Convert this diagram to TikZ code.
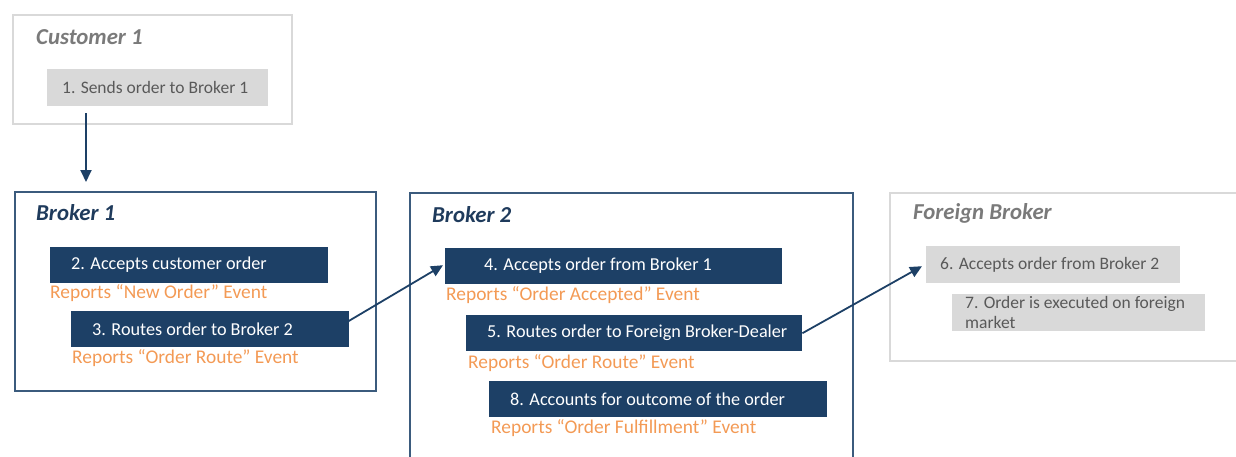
\documentclass[tikz,border=0pt]{standalone}
\usepackage{fontspec}
\setmainfont{Carlito}
\usetikzlibrary{arrows.meta,calc}
\definecolor{navy}{HTML}{1D4066}
\definecolor{frame}{HTML}{3B5B7D}
\definecolor{lgray}{HTML}{D9D9D9}
\definecolor{orng}{HTML}{F39A55}
\definecolor{gtitle}{HTML}{7A7A7A}
\definecolor{gtext}{HTML}{595959}
\definecolor{ntitle}{HTML}{1F3B5C}
\begin{document}
\begin{tikzpicture}[x=1pt,y=-1pt,
  group/.style={draw, line width=1.6pt, inner sep=0pt, anchor=north west},
  navygroup/.style={group, draw=frame},
  graygroup/.style={group, draw=lgray},
  dbox/.style={fill=navy, inner sep=0pt, anchor=north west, minimum height=36pt},
  gbox/.style={fill=lgray, inner sep=0pt, anchor=north west, minimum height=37pt},
  wtext/.style={text=white, font=\fontsize{18.2}{20}\selectfont, anchor=west, inner sep=0pt},
  gtxt/.style={text=gtext, font=\fontsize{17.5}{20}\selectfont, anchor=west, inner sep=0pt, align=left},
  otext/.style={text=orng, font=\fontsize{19.4}{22}\selectfont, anchor=west, inner sep=0pt},
  title/.style={font=\fontsize{22.8}{26}\selectfont\bfseries\itshape, anchor=west, inner sep=0pt},
  arr/.style={draw=navy, line width=1.8pt, -{Triangle[length=12pt,width=11pt]}}
]
\useasboundingbox (0,0) rectangle (1236,456);
\clip (0,0) rectangle (1236,456);
% Customer 1
\node[graygroup, minimum width=279pt, minimum height=109pt] (cust) at (12,14) {};
\node[title, text=gtitle] (custt) at (36,37) {Customer 1};
\node[gbox, minimum width=221pt] (s1) at (47,69) {};
\node[gtxt] (s1t) at (62,87.5) {1. Sends order to Broker 1};
% Broker 1
\node[navygroup, minimum width=361pt, minimum height=199pt] (broker1) at (14,191) {};
\node[title, text=ntitle] (broker1t) at (36,213) {Broker 1};
\node[dbox, minimum width=278pt] (b2) at (50,247) {};
\node[wtext] (b2t) at (71,265) {2. Accepts customer order};
\node[otext] (o2) at (50,293) {Reports “New Order” Event};
\node[dbox, minimum width=278pt] (b3) at (71,311) {};
\node[wtext] (b3t) at (92,329) {3. Routes order to Broker 2};
\node[otext] (o3) at (72,358) {Reports “Order Route” Event};
% Broker 2
\node[navygroup, minimum width=443pt, minimum height=300pt] (broker2) at (409,192) {};
\node[title, text=ntitle] (broker2t) at (432,215) {Broker 2};
\node[dbox, minimum width=337pt] (b4) at (445,248) {};
\node[wtext] (b4t) at (484,266) {4. Accepts order from Broker 1};
\node[otext] (o4) at (446,295) {Reports “Order Accepted” Event};
\node[dbox, minimum width=336pt] (b5) at (466,315) {};
\node[wtext] (b5t) at (487,333) {5. Routes order to Foreign Broker-Dealer};
\node[otext] (o5) at (468,363) {Reports “Order Route” Event};
\node[dbox, minimum width=338pt] (b8) at (489,381) {};
\node[wtext] (b8t) at (510,399) {8. Accounts for outcome of the order};
\node[otext] (o8) at (491,428) {Reports “Order Fulfillment” Event};
% Foreign Broker
\node[graygroup, minimum width=370pt, minimum height=168pt] (foreign) at (889,192) {};
\node[title, text=gtitle] (foreignt) at (913,213) {Foreign Broker};
\node[gbox, minimum width=254pt] (b6) at (926,246) {};
\node[gtxt] (b6t) at (940,264.5) {6. Accepts order from Broker 2};
\node[gbox, minimum width=253pt] (b7) at (952,294) {};
\node[gtxt] (b7t) at (965,312.5) {7. Order is executed on foreign\\market};
% Connectors
\draw[arr] ($(s1.south west)+(39,7)$) -- ($(broker1.north west)+(72,-9)$);
\draw[arr] ($(b3.east)+(-1,-8)$) -- ($(b4.west)+(-2,-1)$);
\draw[arr] (b5.east) -- ($(b6.west)+(-4,1.5)$);
\end{tikzpicture}
\end{document}
